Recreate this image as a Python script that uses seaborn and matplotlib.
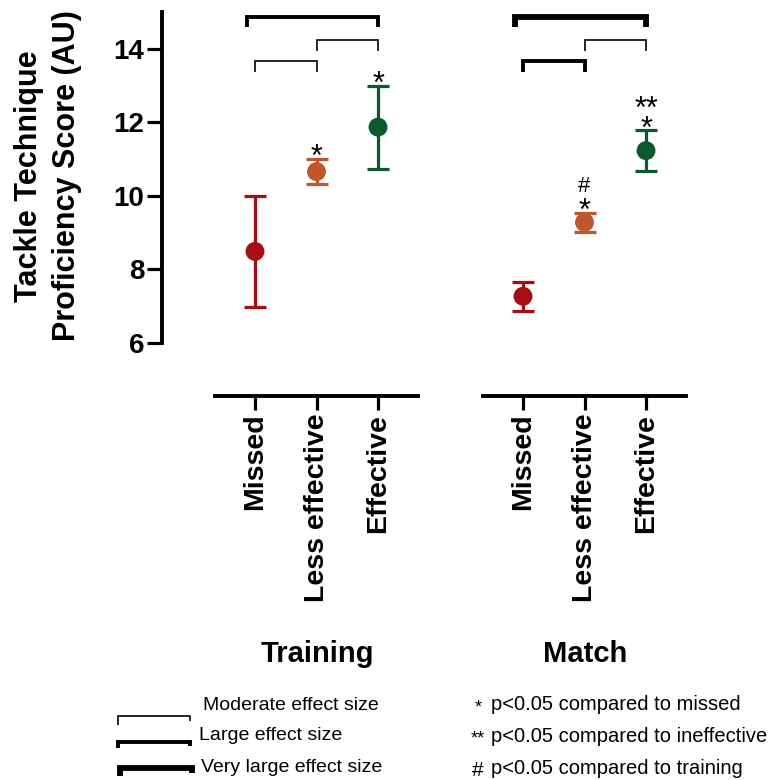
import numpy as np
import pandas as pd
import matplotlib
matplotlib.use("Agg")
import matplotlib.pyplot as plt
import seaborn as sns

# values (mean +/- error, AU)
categories = ["Missed", "Less effective", "Effective"]
training_mean = [8.49, 10.66, 11.87]
training_err = [1.52, 0.35, 1.13]
match_mean = [7.27, 9.28, 11.23]
match_err = [0.40, 0.26, 0.55]

# significance symbols above each error bar, listed bottom-up
training_sig = [[], ["*"], ["*"]]
match_sig = [[], ["*", "#"], ["*", "**"]]

# effect-size brackets (from, to, size)
training_effects = [("Missed", "Less effective", "moderate"),
                    ("Less effective", "Effective", "moderate"),
                    ("Missed", "Effective", "large")]
match_effects = [("Missed", "Less effective", "large"),
                 ("Less effective", "Effective", "moderate"),
                 ("Missed", "Effective", "very large")]

sig_notes = [("*", "p<0.05 compared to missed"),
             ("**", "p<0.05 compared to ineffective"),
             ("#", "p<0.05 compared to training")]

palette = {"Missed": "#A50F12", "Less effective": "#C1552C", "Effective": "#0A5A2D"}
effect_lw = {"moderate": 1.2, "large": 2.8, "very large": 4.2}
bracket_y = {(0, 1): 13.66, (1, 2): 14.23, (0, 2): 14.87}

sns.set_theme(style="ticks")
plt.rcParams["font.family"] = ["Liberation Sans", "DejaVu Sans"]
plt.rcParams.update({
    "font.weight": "bold",
    "axes.edgecolor": "black",
    "axes.linewidth": 2.8,
    "xtick.color": "black",
    "ytick.color": "black",
    "text.color": "black",
})

fig = plt.figure(figsize=(7.71, 7.8), dpi=100)
ax_t = fig.add_axes([215 / 771, 1 - 343 / 780, 203 / 771, 331 / 780])
ax_m = fig.add_axes([483 / 771, 1 - 343 / 780, 203 / 771, 331 / 780], sharey=ax_t)


def draw_panel(ax, mean, err, sig, effects):
    df = pd.DataFrame({"category": categories, "mean": mean, "err": err})
    for i, row in df.iterrows():
        ax.errorbar(row["category"], row["mean"], yerr=row["err"], fmt="none",
                    ecolor=palette[row["category"]], elinewidth=2.3,
                    capsize=8, capthick=2.3, zorder=2)
    sns.scatterplot(data=df, x="category", y="mean", hue="category",
                    palette=palette, s=185, linewidth=0, legend=False,
                    ax=ax, zorder=3)

    # significance marks: asterisks stacked in one text, '#' on top of them
    for i, syms in enumerate(sig):
        if not syms:
            continue
        top = mean[i] + err[i]
        stars = [s for s in syms if "*" in s]
        ax.annotate("\n".join(reversed(stars)), xy=(i, top), xytext=(0, -10.3),
                    textcoords="offset points", ha="center", va="bottom",
                    fontsize=22, fontweight="normal", linespacing=0.56)
        if "#" in syms:
            ax.annotate("#", xy=(i, top), xytext=(0, 15.3),
                        textcoords="offset points", ha="center", va="baseline",
                        fontsize=16, fontweight="normal")

    # effect size brackets
    for a, b, size in effects:
        i, j = categories.index(a), categories.index(b)
        y = bracket_y[(i, j)]
        x0 = i - 0.13 if (i, j) == (0, 2) else i
        ax.plot([x0, x0, j, j], [y - 0.28, y, y, y - 0.28], color="black",
                lw=effect_lw[size], clip_on=False,
                solid_joinstyle="miter", solid_capstyle="butt")

    ax.set_xlim(-0.65, 2.65)
    ax.set_ylim(6, 15)
    ax.set_xlabel("")
    ax.set_ylabel("")
    ax.tick_params(axis="x", length=10, width=2.3, pad=3, labelsize=20.5,
                   labelrotation=90)


draw_panel(ax_t, training_mean, training_err, training_sig, training_effects)
draw_panel(ax_m, match_mean, match_err, match_sig, match_effects)

ax_t.set_yticks([6, 8, 10, 12, 14])
ax_t.tick_params(axis="y", length=11, width=2.3, pad=2, labelsize=20)
ax_m.tick_params(axis="y", left=False, labelleft=False)
sns.despine(ax=ax_t, offset=38)
sns.despine(ax=ax_m, left=True, offset=38)

fig.text(48 / 771, 1 - 176 / 780, "Tackle Technique\nProficiency Score (AU)",
         rotation=90, ha="center", va="center", fontsize=22, linespacing=1.35)
fig.text(317 / 771, 1 - 654 / 780, "Training", ha="center", va="center", fontsize=21)
fig.text(585 / 771, 1 - 654 / 780, "Match", ha="center", va="center", fontsize=21)

# legend drawn in pixel space
leg = fig.add_axes([0, 0, 1, 1])
leg.set_xlim(0, 771)
leg.set_ylim(780, 0)
leg.axis("off")

key_rows = [("moderate", 118, 716, 9, 203, 705),
            ("large", 118, 742, 6, 199, 735),
            ("very large", 120, 768, 8, 201, 768)]
for size, x0, y0, leg_len, tx, ty in key_rows:
    leg.plot([x0, x0, x0 + 72, x0 + 72], [y0 + leg_len, y0, y0, y0 + leg_len * 0.6],
             color="black", lw=effect_lw[size], solid_joinstyle="miter",
             solid_capstyle="butt")
    leg.text(tx, ty, size.capitalize() + " effect size", ha="left", va="center",
             fontsize=14, fontweight="normal")

for (sym, note), y, sz in zip(sig_notes, [705, 736, 768], [13, 13, 15]):
    leg.text(478, y + 3, sym, ha="center", va="center", fontsize=sz, fontweight="normal")
    leg.text(491, y, note, ha="left", va="center", fontsize=14.5, fontweight="normal")

fig.savefig("out.png", dpi=100)
